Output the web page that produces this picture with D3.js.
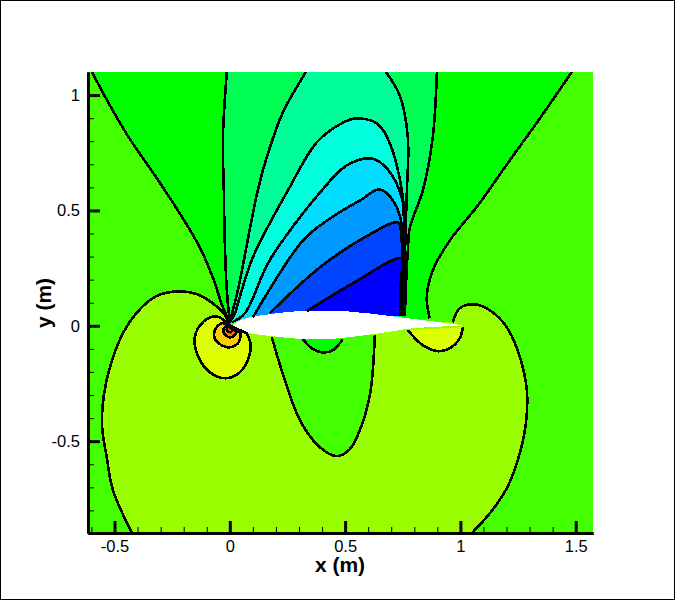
<!DOCTYPE html>
<html>
<head>
<script src="https://d3js.org/d3.v7.min.js"></script>
<style>
html, body { margin: 0; padding: 0; background: #fff; }
svg { display: block; }
text { font-family: "Liberation Sans", Arial, sans-serif; fill: #000; }
.tick text { font-size: 16.5px; }
.title { font-size: 21px; font-weight: bold; }
.contour { fill: none; stroke: #000; stroke-width: 2.6px; shape-rendering: crispEdges; }
.band { stroke: none; shape-rendering: crispEdges; }
</style>
</head>
<body>
<script>
// axis ticks and labels
var xMajor = [-0.5, 0, 0.5, 1, 1.5];
var xMinor = [-0.6, -0.4, -0.3, -0.2, -0.1, 0.1, 0.2, 0.3, 0.4, 0.6, 0.7, 0.8, 0.9, 1.1, 1.2, 1.3, 1.4];
var yMajor = [-0.5, 0, 0.5, 1];
var yMinor = [-0.8, -0.7, -0.6, -0.4, -0.3, -0.2, -0.1, 0.1, 0.2, 0.3, 0.4, 0.6, 0.7, 0.8, 0.9];
var xTitle = "x (m)";
var yTitle = "y (m)";

// contour levels, [x, y] in metres
var outerLeft = [[-0.598,1.1],[-0.520,0.955],[-0.438,0.816],[-0.325,0.652],[-0.217,0.487],[-0.130,0.340],[-0.074,0.210],[-0.030,0.080],[0,0.015]];
var outerRight = [[0.867,0.032],[0.854,0.123],[0.880,0.240],[0.954,0.370],[1.076,0.522],[1.214,0.717],[1.344,0.898],[1.483,1.1]];

var fan1Left = [[-0.013,1.1],[-0.030,0.816],[-0.026,0.587],[-0.022,0.370],[-0.013,0.154],[0,0.015]];
var fan1Right = [[0.759,0.041],[0.763,0.154],[0.772,0.327],[0.781,0.427],[0.837,0.587],[0.880,0.816],[0.898,1.1]];
var fan2Left = [[0.330,1.1],[0.230,0.924],[0.160,0.730],[0.121,0.587],[0.035,0.154],[0.013,0.067],[0,0.015]];
var fan2Right = [[0.755,0.041],[0.759,0.284],[0.763,0.435],[0.768,0.587],[0.772,0.816],[0.737,0.998],[0.677,1.1]];

var arc3 = [[0,0.015],[0.022,0.054],[0.035,0.097],[0.100,0.297],[0.252,0.587],[0.377,0.795],[0.477,0.873],[0.542,0.898],[0.638,0.877],[0.694,0.790],[0.746,0.587],[0.759,0.435],[0.755,0.240],[0.750,0.041]];
var arc4 = [[0.009,0.015],[0.065,0.054],[0.173,0.284],[0.399,0.587],[0.507,0.695],[0.616,0.725],[0.681,0.682],[0.746,0.556],[0.755,0.414],[0.750,0.240],[0.746,0.041]];
var arc5 = [[0.100,0.037],[0.317,0.370],[0.434,0.465],[0.564,0.543],[0.651,0.591],[0.716,0.530],[0.746,0.435],[0.750,0.240],[0.742,0.041]];
var arc6 = [[0.173,0.054],[0.390,0.253],[0.577,0.379],[0.729,0.448],[0.742,0.414],[0.746,0.240],[0.737,0.041]];
var arc7 = [[0.334,0.063],[0.533,0.184],[0.746,0.292],[0.742,0.197],[0.737,0.041]];

var lobeLeft = [[0,0],[-0.030,0.058],[-0.130,0.132],[-0.217,0.149],[-0.320,0.128],[-0.438,0.011],[-0.520,-0.180],[-0.555,-0.409],[-0.533,-0.574],[-0.507,-0.712],[-0.425,-0.898]];
var lobeRight = [[1.050,-0.898],[1.128,-0.812],[1.201,-0.704],[1.249,-0.582],[1.284,-0.422],[1.288,-0.279],[1.258,-0.136],[1.201,-0.006],[1.128,0.067],[1.063,0.093],[0.997,0.076],[0.967,0.015]];
var bell = [[0.182,-0.050],[0.239,-0.236],[0.304,-0.409],[0.390,-0.526],[0.464,-0.565],[0.520,-0.535],[0.572,-0.431],[0.607,-0.301],[0.620,-0.193],[0.629,-0.041]];
var bump = [[0.317,-0.058],[0.355,-0.097],[0.399,-0.115],[0.447,-0.106],[0.490,-0.058]];
var teLobe = [[0.772,-0.019],[0.837,-0.084],[0.902,-0.110],[0.954,-0.097],[0.997,-0.054],[1.011,-0.006]];
var leYellow = [[0,0],[-0.056,0.041],[-0.113,0.019],[-0.152,-0.050],[-0.139,-0.128],[-0.087,-0.201],[-0.013,-0.227],[0.056,-0.188],[0.091,-0.093],[0.074,-0.032]];
var leAmber = [[0,0],[-0.035,0.011],[-0.065,-0.020],[-0.061,-0.063],[-0.009,-0.093],[0.035,-0.076],[0.048,-0.032]];
var leOrange = [[-0.009,0.002],[-0.026,-0.011],[-0.022,-0.037],[0.004,-0.050],[0.026,-0.032],[0.017,-0.006]];
var leCore = [[-0.009,0],[-0.013,-0.020],[0.004,-0.028],[0.013,-0.015]];

var foilUpper = [[0,-0.006],[0.026,0.015],[0.087,0.037],[0.173,0.050],[0.291,0.063],[0.507,0.063],[0.737,0.037],[0.984,0.006],[1.011,0.002]];
var foilLower = [[0.997,0],[0.794,-0.011],[0.651,-0.032],[0.477,-0.054],[0.334,-0.058],[0.117,-0.037],[0.013,-0.020]];

var width = 675, height = 600;
var x = d3.scaleLinear().domain([-0.615, 1.575]).range([88, 593]);
var y = d3.scaleLinear().domain([-0.898, 1.1]).range([533, 72]);

var svg = d3.select("body").append("svg")
    .attr("width", width)
    .attr("height", height);

// page frame
svg.append("rect")
    .attr("x", 0.5).attr("y", 0.5)
    .attr("width", width - 1).attr("height", height - 1)
    .attr("fill", "#fff").attr("stroke", "#000");

svg.append("clipPath").attr("id", "plot")
    .append("rect")
    .attr("x", x(-0.615)).attr("y", y(1.1))
    .attr("width", x(1.575) - x(-0.615))
    .attr("height", y(-0.898) - y(1.1));

var line = d3.line()
    .x(function(d) { return x(d[0]); })
    .y(function(d) { return y(d[1]); })
    .curve(d3.curveCatmullRom.alpha(0.5));

// closed area from one or two contour pieces
function area(a, b) {
    var d = line(a);
    if (b) d += "L" + line(b).slice(1);
    return d + "Z";
}

var g = svg.append("g").attr("clip-path", "url(#plot)");

g.append("rect")
    .attr("x", x(-0.615)).attr("y", y(1.1))
    .attr("width", x(1.575) - x(-0.615))
    .attr("height", y(-0.898) - y(1.1))
    .attr("fill", "#44ff00");

// flood levels, painted from the outside in
var bands = [
    { d: area(lobeLeft, lobeRight), color: "#99ff00" },
    { d: area(bell), color: "#44ff00" },
    { d: area(bump), color: "#00ff00" },
    { d: area(teLobe), color: "#ddff00" },
    { d: area(leYellow), color: "#ddff00" },
    { d: area(leAmber), color: "#ffcc00" },
    { d: area(leOrange), color: "#ff7700" },
    { d: area(leCore), color: "#ff4400" },
    { d: area(outerLeft, outerRight), color: "#00ff00" },
    { d: area(fan1Left, fan1Right), color: "#00ff55" },
    { d: area(fan2Left, fan2Right), color: "#00ff99" },
    { d: area(arc3), color: "#00ffdd" },
    { d: area(arc4), color: "#00ddff" },
    { d: area(arc5), color: "#0099ff" },
    { d: area(arc6), color: "#0044ff" },
    { d: area(arc7), color: "#0000ff" }
];

g.selectAll(".band")
    .data(bands)
    .enter().append("path")
    .attr("class", "band")
    .attr("d", function(d) { return d.d; })
    .attr("fill", function(d) { return d.color; });

// the aerofoil itself is not part of the field
g.append("path")
    .attr("class", "band")
    .attr("d", area(foilUpper, foilLower))
    .attr("fill", "#fff");

var contours = [outerLeft, outerRight, fan1Left, fan1Right, fan2Left, fan2Right, arc3, arc4, arc5, arc6, arc7,
    lobeLeft, lobeRight, bell, bump, teLobe];
var loops = [leYellow, leAmber, leOrange, leCore];

g.selectAll(".contour.open")
    .data(contours)
    .enter().append("path")
    .attr("class", "contour open")
    .attr("d", function(d) { return line(d); });

g.selectAll(".contour.loop")
    .data(loops)
    .enter().append("path")
    .attr("class", "contour loop")
    .attr("d", function(d) { return area(d); });

// axes, ticks point into the plot
function styleAxis(sel, major) {
    sel.select(".domain").attr("stroke-width", 3);
    sel.selectAll(".tick line").attr("stroke-width", major ? 3 : 1);
}

var bottomMinor = d3.axisBottom(x).tickValues(xMinor).tickSizeInner(-6).tickSizeOuter(0).tickFormat("");
var bottomMajor = d3.axisBottom(x).tickValues(xMajor).tickSizeInner(-12).tickSizeOuter(0).tickPadding(7)
    .tickFormat(function(d) { return String(d); });
var leftMinor = d3.axisLeft(y).tickValues(yMinor).tickSizeInner(-6).tickSizeOuter(0).tickFormat("");
var leftMajor = d3.axisLeft(y).tickValues(yMajor).tickSizeInner(-12).tickSizeOuter(0).tickPadding(8)
    .tickFormat(function(d) { return String(d); });

svg.append("g").attr("transform", "translate(0,533)").call(bottomMinor).call(styleAxis, false);
svg.append("g").attr("transform", "translate(0,533)").call(bottomMajor).call(styleAxis, true);
svg.append("g").attr("transform", "translate(88,0)").call(leftMinor).call(styleAxis, false);
svg.append("g").attr("transform", "translate(88,0)").call(leftMajor).call(styleAxis, true);
svg.selectAll(".tick text").attr("font-family", null).attr("font-size", null);

svg.append("text")
    .attr("class", "title")
    .attr("x", 340).attr("y", 572)
    .attr("text-anchor", "middle")
    .text(xTitle);

svg.append("text")
    .attr("class", "title")
    .attr("transform", "translate(51,303) rotate(-90)")
    .attr("text-anchor", "middle")
    .text(yTitle);
</script>
</body>
</html>
